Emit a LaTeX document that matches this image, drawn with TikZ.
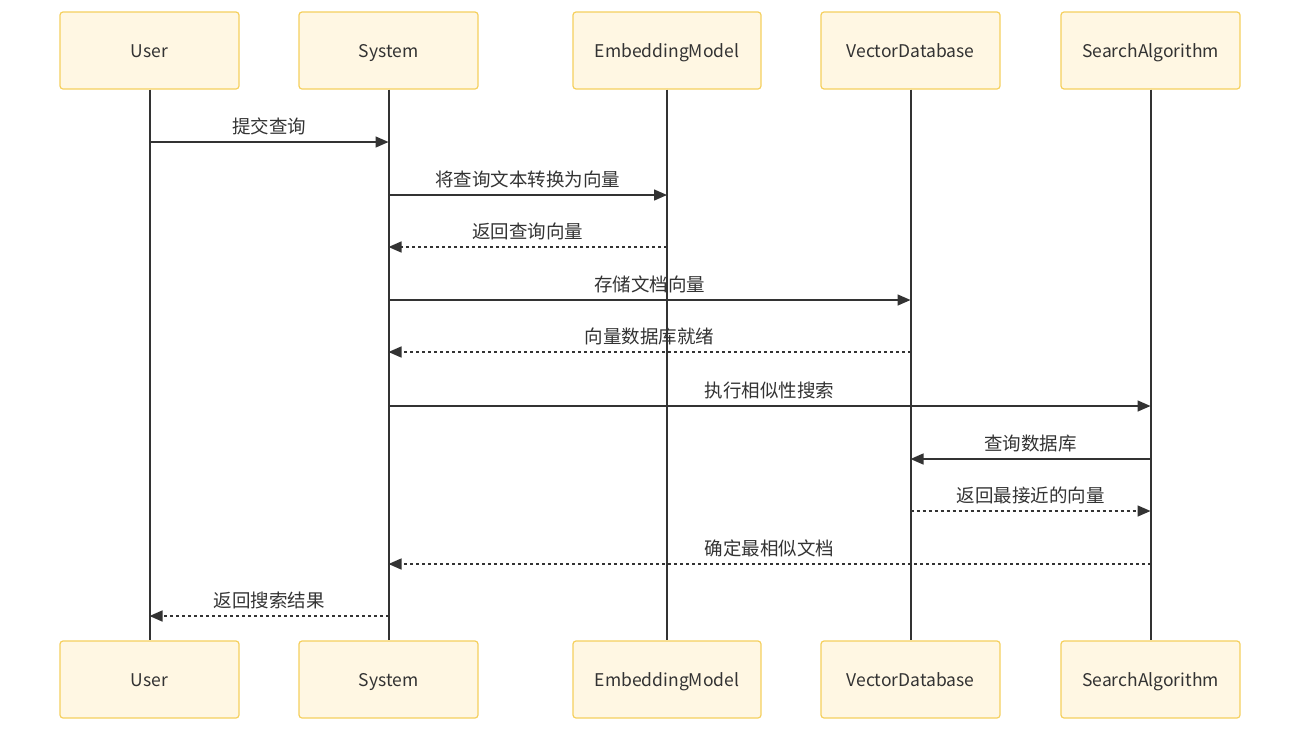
\documentclass[tikz,border=0pt]{standalone}
\usepackage{fontspec}
\setmainfont{Noto Sans CJK SC}
\usetikzlibrary{arrows.meta}
\definecolor{boxfill}{HTML}{FFF7E3}
\definecolor{boxline}{HTML}{F5D05E}
\definecolor{ink}{HTML}{333333}

\begin{document}
\begin{tikzpicture}[x=1pt,y=-1pt,
    actor/.style={draw=boxline,fill=boxfill,line width=1.2pt,rounded corners=3pt,
      minimum height=77pt,text height=16pt,text depth=2pt,text=ink,
      font=\fontsize{17.5}{17.5}\selectfont},
    life/.style={ink,line width=2pt},
    msg/.style={ink,line width=1.5pt,-{Triangle[length=13pt,width=11pt]}},
    reply/.style={msg,dash pattern=on 3pt off 3pt},
    lbl/.style={above=3pt,text=ink,font=\fontsize{18.5}{18.5}\selectfont}]
  \useasboundingbox (0,0) rectangle (1300,732);
  % actors and lifelines
  \foreach \n/\x/\w/\t in {user/149.5/179/User,sys/388.5/179/System,
      emb/667/188/EmbeddingModel,vdb/910.5/179/VectorDatabase,
      alg/1150.5/179/SearchAlgorithm}{
    \node[actor,minimum width=\w pt] (\n-top) at (\x,50.5) {\t};
    \node[actor,minimum width=\w pt] (\n-bot) at (\x,679.5) {\t};
    \draw[life] (\n-top) -- (\n-bot);
  }
  % messages
  \foreach \a/\b/\y/\s/\t in {user/sys/142/msg/提交查询,
      sys/emb/195/msg/将查询文本转换为向量,
      emb/sys/247/reply/返回查询向量,
      sys/vdb/300/msg/存储文档向量,
      vdb/sys/352/reply/向量数据库就绪,
      sys/alg/406/msg/执行相似性搜索,
      alg/vdb/459/msg/查询数据库,
      vdb/alg/511/reply/返回最接近的向量,
      alg/sys/564/reply/确定最相似文档,
      sys/user/616/reply/返回搜索结果}{
    \draw[\s] (\a-top |- 0,\y) -- node[lbl] {\t} (\b-top |- 0,\y);
  }
\end{tikzpicture}
\end{document}
